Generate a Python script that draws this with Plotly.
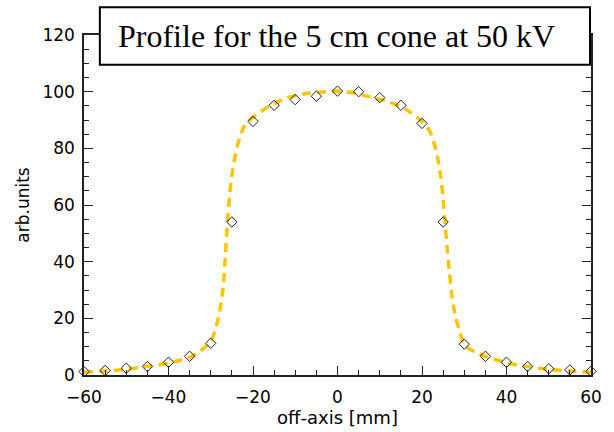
import plotly.graph_objects as go

# Measured points (diamonds)
x_pts = [-60, -55, -50, -45, -40, -35, -30, -25, -20, -15, -10, -5, 0,
         5, 10, 15, 20, 25, 30, 35, 40, 45, 50, 55, 60]
y_pts = [1.2, 1.6, 2.4, 3.0, 4.5, 6.6, 11.2, 54.0, 89.5, 95.2, 97.2, 98.4, 100.2,
         100.0, 97.9, 95.2, 88.8, 54.0, 10.9, 6.6, 4.5, 3.0, 2.2, 1.8, 1.3]

# Calculated profile (dashed curve)
x_curve = [-60, -55, -50, -45, -40, -35, -32.5, -30, -29, -28, -27.5, -27, -26.5, -26,
           -25.5, -25, -24, -23, -22, -20, -16, -12, -8, -4, 0, 4, 8, 12, 16, 20,
           21, 22, 23, 23.5, 24, 24.5, 25, 25.5, 26, 26.5, 27, 27.5, 28, 29, 30,
           32.5, 35, 40, 45, 50, 55, 60]
y_curve = [1.0, 1.4, 2.0, 3.0, 4.2, 6.2, 8.4, 11.8, 15.5, 21.5, 26, 32, 43, 55,
           64, 70.5, 79, 84.5, 88, 91, 95, 97.8, 99.2, 99.8, 100.2, 99.5, 98, 96.5, 94, 89.5,
           88, 85.5, 81, 78.5, 74, 69.5, 62, 53, 44, 36, 29, 24, 20, 15, 10.5,
           8.2, 6.6, 4.3, 2.9, 2.0, 1.4, 1.0]

x_ticks = [-60, -40, -20, 0, 20, 40, 60]
y_ticks = [0, 20, 40, 60, 80, 100, 120]

title_text = "Profile for the 5 cm cone at 50 kV"

fig = go.Figure()
fig.add_trace(go.Scatter(
    x=x_curve, y=y_curve, mode="lines",
    line=dict(color="#FFC400", width=3.5, dash="9px,6px", shape="spline", smoothing=0.6),
    showlegend=False, hoverinfo="skip"))
fig.add_trace(go.Scatter(
    x=x_pts, y=y_pts, mode="markers",
    marker=dict(symbol="diamond-open", size=8, color="#202020", line=dict(width=1)),
    showlegend=False, cliponaxis=False))

axis_common = dict(
    showline=True, linecolor="#222222", linewidth=1.5, mirror="ticks",
    ticks="inside", ticklen=9, tickwidth=1.2, tickcolor="#222222",
    showgrid=False, zeroline=False,
    tickfont=dict(family="DejaVu Sans", size=17, color="black"),
    minor=dict(ticks="inside", ticklen=5, dtick=5, tickwidth=1.2, tickcolor="#222222"),
)

fig.update_layout(
    width=614, height=432,
    margin=dict(l=84, r=18, t=35, b=53),
    plot_bgcolor="white", paper_bgcolor="white",
    xaxis=dict(range=[-60, 60], tickvals=x_ticks, ticktext=[str(v).replace("-", "\u2212") for v in x_ticks],
               ticklabelstandoff=6,
               title=dict(text="off-axis [mm]", font=dict(family="DejaVu Sans", size=18, color="black"),
                          standoff=0),
               **axis_common),
    yaxis=dict(range=[0, 120], tickvals=y_ticks,
               title=dict(text="arb.units", font=dict(family="DejaVu Sans", size=17, color="black"),
                          standoff=8),
               ticklabelstandoff=4,
               **axis_common),
    shapes=[dict(type="rect", xref="paper", yref="paper",
                 x0=(100 - 84) / 512, x1=(595 - 84) / 512,
                 y0=(379 - 65) / 344, y1=(379 - 7) / 344,
                 line=dict(color="black", width=2), fillcolor="white", layer="above")],
    annotations=[dict(text=title_text, xref="paper", yref="paper",
                      x=(339 - 84) / 512, y=(379 - 36) / 344,
                      showarrow=False, xanchor="center", yanchor="middle",
                      font=dict(family="Liberation Serif", size=32, color="black"))],
)

fig.write_html("out.html")
